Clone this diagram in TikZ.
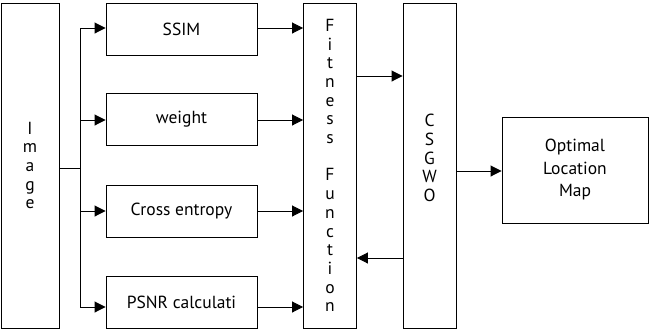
\documentclass[tikz,border=0pt]{standalone}
\usepackage{fontspec}
\setmainfont{PT Sans}
\usetikzlibrary{arrows.meta}
\begin{document}
\begin{tikzpicture}[x=1pt,y=-1pt,
  box/.style={draw,line width=0.9pt,rectangle,inner sep=0pt,align=center,
    font=\fontsize{17.5}{18.7}\selectfont},
  lbl/.style={inner sep=0pt,align=center,font=\fontsize{17.5}{18.7}\selectfont},
  conn/.style={line width=0.9pt,-{Triangle[length=11pt,width=11pt]}},
  wire/.style={line width=0.9pt}]
\useasboundingbox (0,0) rectangle (649,333);

% input image
\node[box,minimum width=58pt,minimum height=325pt] (img) at (30,165.5)
  {I\\m\\a\\g\\e};

% feature blocks
\node[box,minimum width=151pt,minimum height=52pt] (ssim) at (181.5,29) {SSIM};
\node[box,minimum width=151pt,minimum height=52pt] (wgt) at (181.5,119.5) {weight};
\node[box,minimum width=151pt,minimum height=52pt] (ce) at (181.5,211) {Cross entropy};
\node[box,minimum width=151pt,minimum height=52pt] (psnr) at (181.5,302) {PSNR calculati};

% fitness function
\node[box,minimum width=53pt,minimum height=325pt] (fit) at (330,165.5)
  {F\\i\\t\\n\\e\\s\\s\\[18.7pt]F\\u\\n\\c\\t\\i\\o\\n};

% optimiser
\node[box,minimum width=53pt,minimum height=325pt] (gwo) at (429.5,165.5) {};
\node[lbl] (gwot) at (429.5,158) {C\\S\\G\\W\\O};

% result
\node[box,minimum width=146pt,minimum height=106pt,
  font=\fontsize{17.5}{22.5}\selectfont] (opt) at (575,170) {Optimal\\Location\\Map};

% fan-out from the image
\coordinate (tr) at (80,168);
\draw[wire] (img.east |- tr) -- (tr);
\draw[wire] (80,28) -- (80,307);
\draw[conn] (80,28) -- (ssim.west |- 0,28);
\draw[conn] (80,120) -- (wgt.west |- 0,120);
\draw[conn] (80,211) -- (ce.west |- 0,211);
\draw[conn] (80,307) -- (psnr.west |- 0,307);

% blocks into the fitness function
\draw[conn] (ssim.east |- 0,28) -- (fit.west |- 0,28);
\draw[conn] (wgt.east |- 0,120) -- (fit.west |- 0,120);
\draw[conn] (ce.east |- 0,211) -- (fit.west |- 0,211);
\draw[conn] (psnr.east |- 0,307) -- (fit.west |- 0,307);

% loop between fitness and optimiser
\draw[conn] (fit.east |- 0,76) -- (gwo.west |- 0,76);
\draw[conn] (gwo.west |- 0,258) -- (fit.east |- 0,258);

% optimiser output
\draw[conn] (gwo.east |- 0,171) -- (opt.west |- 0,171);
\end{tikzpicture}
\end{document}
